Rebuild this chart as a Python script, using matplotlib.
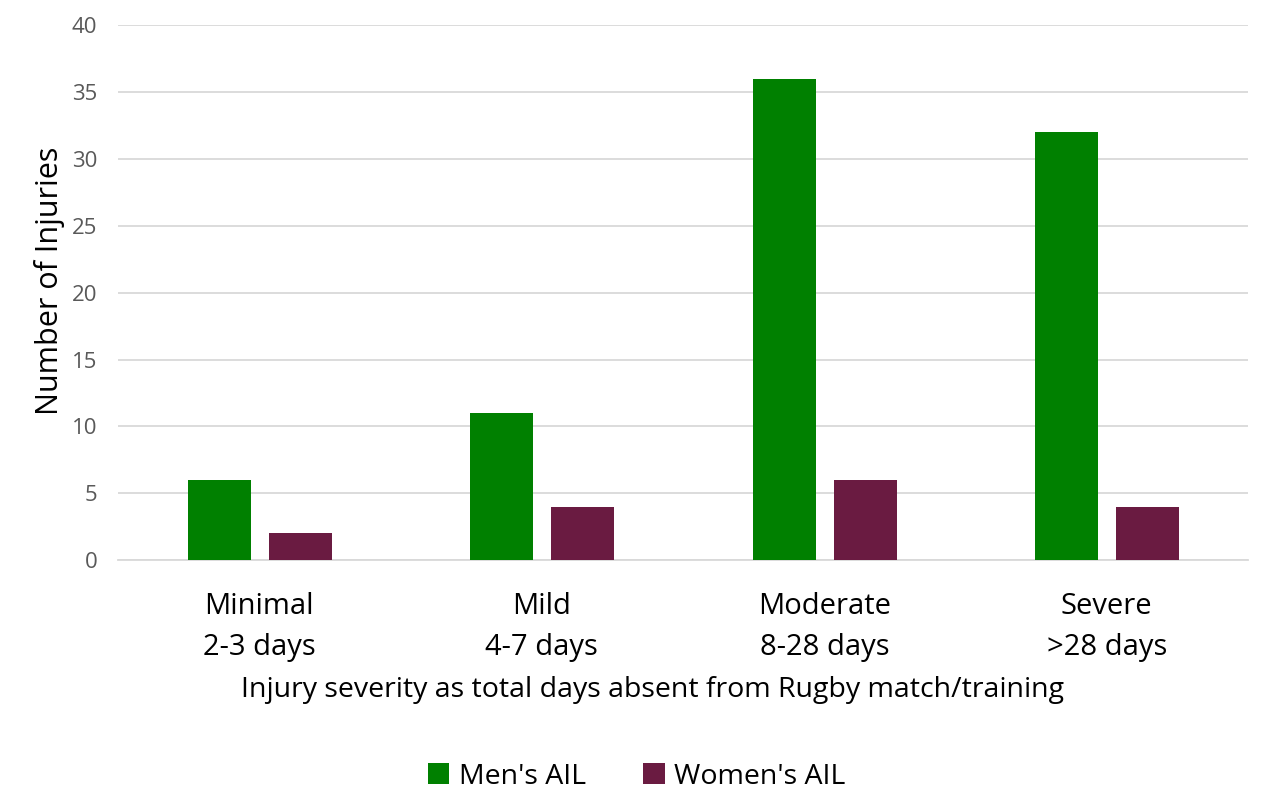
import matplotlib.pyplot as plt
import numpy as np

categories = ['Minimal\n2-3 days', 'Mild\n4-7 days', 'Moderate\n8-28 days', 'Severe\n>28 days']
mens_ail = [6, 11, 36, 32]
womens_ail = [2, 4, 6, 4]

plt.rcParams['font.family'] = ['Open Sans', 'DejaVu Sans']

fig = plt.figure(figsize=(12.61, 7.91), dpi=100)
ax = fig.add_axes([0.0936, 0.292, 0.8961, 0.676])

x = np.arange(len(categories))
w = 0.223
ax.bar(x - 0.142, mens_ail, w, color='#008000', label="Men's AIL", zorder=3)
ax.bar(x + 0.145, womens_ail, w, color='#6A1B41', label="Women's AIL", zorder=3)

ax.set_xlim(-0.5, 3.5)
ax.set_ylim(0, 40)
ax.set_yticks(range(0, 41, 5))
ax.yaxis.grid(True, color='#D9D9D9', linewidth=1.3, zorder=0)
for s in ['top', 'right', 'left']:
    ax.spines[s].set_visible(False)
ax.spines['bottom'].set_color('#D9D9D9')
ax.spines['bottom'].set_linewidth(1.3)
ax.tick_params(axis='y', length=0, labelsize=16, labelcolor='#595959', pad=15)
ax.tick_params(axis='x', length=0, labelsize=21, pad=23)
ax.set_xticks(x)
ax.set_xticklabels(categories, linespacing=1.55)

ax.set_ylabel('Number of Injuries', fontsize=22, labelpad=5)
ax.yaxis.label.set_y(0.523)
ax.set_xlabel('Injury severity as total days absent from Rugby match/training', fontsize=20.5, labelpad=10)
ax.xaxis.label.set_x(0.473)

fig.legend(loc='center', bbox_to_anchor=(0.505, 0.018), ncol=2, frameon=False,
           fontsize=20.5, handlelength=0.75, handleheight=0.75, handletextpad=0.35,
           columnspacing=2.0)

fig.savefig('out.png', dpi=100)
